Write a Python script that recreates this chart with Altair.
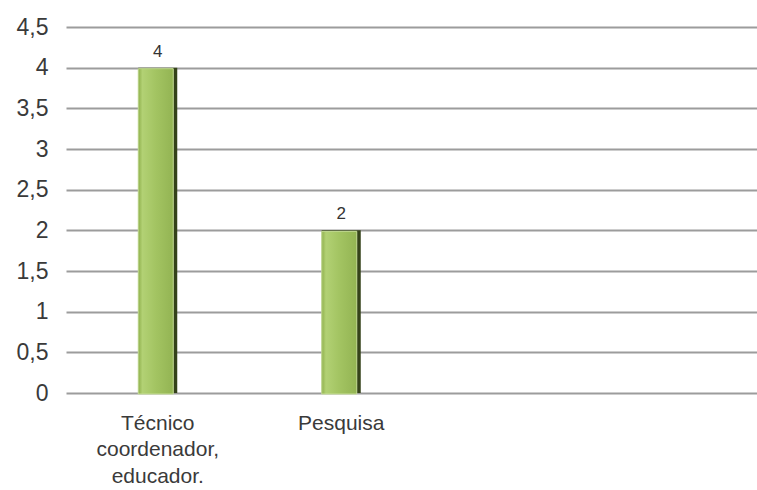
import altair as alt
import pandas as pd

# Categories and counts
categories = ["Técnico|coordenador,|educador.", "Pesquisa"]
values = [4, 2]
# two empty slots keep the band layout of a four-column axis
x_domain = categories + [" ", "  "]
y_ticks = [0, 0.5, 1, 1.5, 2, 2.5, 3, 3.5, 4, 4.5]

df = pd.DataFrame({"categoria": categories, "valor": values})

FONT = "Liberation Sans"

x_enc = alt.X(
    "categoria:N",
    sort=x_domain,
    scale=alt.Scale(domain=x_domain, range=[4, 738], paddingInner=0, paddingOuter=0),
    axis=alt.Axis(
        title=None,
        domain=False,
        ticks=False,
        labelAngle=0,
        labelFont=FONT,
        labelFontSize=21,
        labelColor="#3a3a3a",
        labelPadding=19,
        labelLineHeight=26.5,
        labelExpr="split(datum.label, '|')",
    ),
)

y_enc = alt.Y(
    "valor:Q",
    scale=alt.Scale(domain=[0, 4.5], nice=False),
    axis=alt.Axis(
        title=None,
        values=y_ticks,
        domain=False,
        ticks=False,
        grid=True,
        gridColor="#9c9c9c",
        gridWidth=2,
        labelFont=FONT,
        labelFontSize=23,
        labelColor="#3a3a3a",
        labelPadding=14,
        labelExpr="replace(toString(datum.value), '.', ',')",
    ),
)

# dark bevel underneath
shadow = alt.Chart(df).mark_bar(size=39, color="#34421a").encode(x=x_enc, y=y_enc)

# green face with a soft horizontal gradient and a light rim
face = alt.Chart(df).mark_bar(
    size=35,
    xOffset=-2,
    y2Offset=-4,
    yOffset=1,
    stroke="#c6de96",
    strokeWidth=1,
    color=alt.Gradient(
        gradient="linear",
        x1=0, x2=1, y1=0, y2=0,
        stops=[
            alt.GradientStop(offset=0, color="#8fb04c"),
            alt.GradientStop(offset=0.12, color="#b2d174"),
            alt.GradientStop(offset=0.5, color="#a3c462"),
            alt.GradientStop(offset=1, color="#93b453"),
        ],
    ),
).encode(x=x_enc, y=y_enc)

labels = alt.Chart(df).mark_text(
    font=FONT, fontSize=17, color="#333333", dy=-16, baseline="middle"
).encode(x=x_enc, y=y_enc, text=alt.Text("valor:Q"))

chart = (
    alt.layer(shadow, face, labels)
    .properties(
        width=695,
        height=366,
        autosize=alt.AutoSizeParams(type="none"),
        padding={"left": 62, "top": 27, "right": 0, "bottom": 97},
        background="white",
    )
    .configure_view(stroke=None)
)

chart.save("out.html", embed_options={"renderer": "svg", "actions": False})
